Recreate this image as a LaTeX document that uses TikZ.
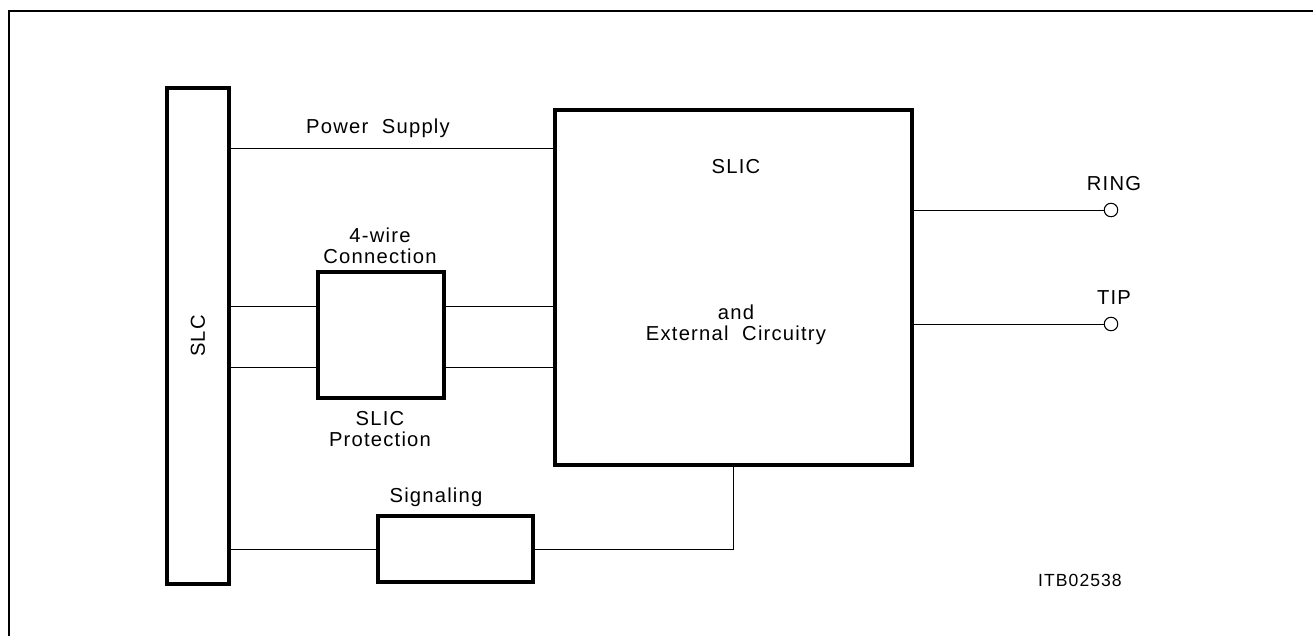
\documentclass[tikz,border=0pt]{standalone}
\usepackage{fontspec}
\setmainfont[LetterSpace=6,WordSpace=2]{Liberation Sans}
\usetikzlibrary{positioning, calc}

\begin{document}
\begin{tikzpicture}[x=0.02cm, y=-0.02cm,
  blk/.style={draw, line width=2.1pt, inner sep=0pt},
  wire/.style={line width=0.55pt},
  lbl/.style={font=\fontsize{11.5}{12}\selectfont, align=center, inner sep=1pt},
  term/.style={circle, draw, line width=0.6pt, minimum size=0.27cm, inner sep=0pt}]
  \useasboundingbox (0,0) rectangle (1313,636);
  \draw[line width=1.1pt] (9,660) |- (1330,11);
  % blocks
  \node[blk, minimum width=1.24cm, minimum height=9.92cm] (slc)  at (198,336)   {};
  \node[blk, minimum width=7.14cm, minimum height=7.1cm]  (slic) at (733.5,287.5) {};
  \node[blk, minimum width=2.52cm, minimum height=2.52cm] (prot) at (381,335)   {};
  \node[blk, minimum width=3.1cm,  minimum height=1.32cm] (sig)  at (455.5,549) {};
  \node[term] (ring) at (1111,210) {};
  \node[term] (tip)  at (1111,324) {};
  % tap points
  \coordinate (pwr) at (400,148);
  \coordinate (pa) at ($(prot.north west)!0.28!(prot.south west)$);
  \coordinate (pb) at ($(prot.north west)!0.75!(prot.south west)$);
  % wires
  \draw[wire] (slc.east |- pwr) -- (slic.west |- pwr);
  \draw[wire] (slc.east |- pa) -- (pa);
  \draw[wire] (slc.east |- pb) -- (pb);
  \draw[wire] (prot.east |- pa) -- (slic.west |- pa);
  \draw[wire] (prot.east |- pb) -- (slic.west |- pb);
  \draw[wire] (slc.east |- sig.west) -- (sig.west);
  \draw[wire] (sig.east) -| (slic.south);
  \draw[wire] (slic.east |- ring) -- (ring);
  \draw[wire] (slic.east |- tip) -- (tip);
  % labels
  \node[lbl, rotate=90] at (slc) {SLC};
  \node[lbl] at (378,128) {Power Supply};
  \node[lbl] at (380,246) {4-wire\\Connection};
  \node[lbl] at (380,429) {SLIC\\Protection};
  \node[lbl] at (436,497) {Signaling};
  \node[lbl] at (736,167) {SLIC};
  \node[lbl] at (736,325) {and\\External Circuitry};
  \node[lbl] at (1114,184) {RING};
  \node[lbl] at (1114,298) {TIP};
  \node[lbl, font=\fontsize{10}{12}\selectfont] at (1080,580) {ITB02538};
\end{tikzpicture}
\end{document}
